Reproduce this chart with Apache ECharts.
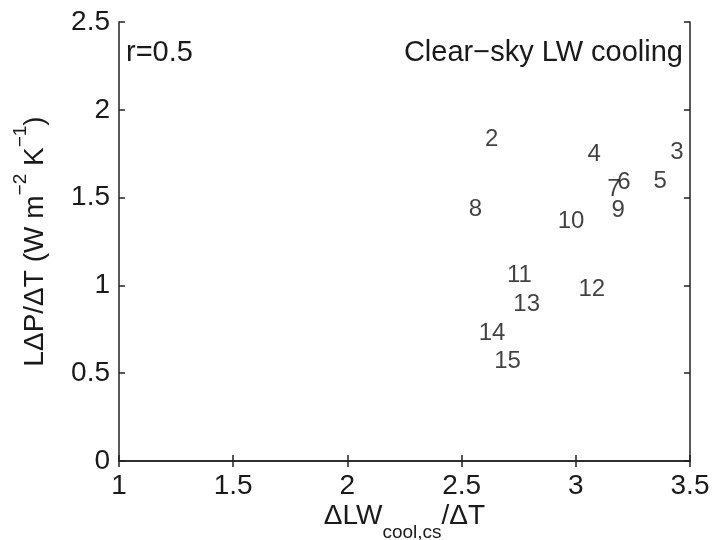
<!DOCTYPE html>
<html>
<head>
<meta charset="utf-8">
<script src="https://cdn.jsdelivr.net/npm/echarts@6/dist/echarts.min.js"></script>
<style>html,body{margin:0;padding:0;background:#fff}#c{width:715px;height:540px}</style>
</head>
<body>
<div id="c"></div>
<script>
var modelIds = ['2','3','4','5','6','7','8','9','10','11','12','13','14','15'];
var xValues = [2.632, 3.443, 3.080, 3.369, 3.211, 3.167, 2.561, 3.185, 2.979, 2.753, 3.070, 2.785, 2.633, 2.701];
var yValues = [1.830, 1.760, 1.748, 1.595, 1.586, 1.549, 1.435, 1.425, 1.363, 1.059, 0.979, 0.894, 0.729, 0.569];
var xTicks = [1, 1.5, 2, 2.5, 3, 3.5];
var yTicks = [0, 0.5, 1, 1.5, 2, 2.5];

var FONT = '"Liberation Sans", Arial, Helvetica, sans-serif';
var INK = '#1a1a1a';
var points = modelIds.map(function (id, i) { return [xValues[i], yValues[i], id]; });

var chart = echarts.init(document.getElementById('c'), null, {renderer: 'canvas'});
var axisCommon = {
  axisLine: {show: true, lineStyle: {color: '#222', width: 1.5}},
  axisTick: {show: true, inside: true, length: 6, lineStyle: {color: '#222', width: 1.5}},
  splitLine: {show: false}
};
chart.setOption({
  animation: false,
  backgroundColor: '#fff',
  grid: {left: 119, right: 25, top: 22, bottom: 79, containLabel: false, outerBoundsMode: 'none'},
  xAxis: [
    Object.assign({
      type: 'value', min: xTicks[0], max: xTicks[xTicks.length - 1], interval: 0.5, position: 'bottom',
      axisLabel: {fontFamily: FONT, fontSize: 28, color: INK, margin: 11,
        formatter: function (v) { return String(v); }},
      name: '{n|ΔLW}{s|cool,cs}{n|/ΔT}',
      nameLocation: 'middle', nameGap: 41, nameMoveOverlap: false,
      nameTextStyle: {rich: {
        n: {fontFamily: FONT, fontSize: 28, color: INK, verticalAlign: 'top', lineHeight: 40},
        s: {fontFamily: FONT, fontSize: 19, color: INK, verticalAlign: 'bottom', lineHeight: 40}
      }}
    }, axisCommon),
    Object.assign({
      type: 'value', min: xTicks[0], max: xTicks[xTicks.length - 1], interval: 0.5, position: 'top',
      axisLabel: {show: false}
    }, axisCommon)
  ],
  yAxis: [
    Object.assign({
      type: 'value', min: yTicks[0], max: yTicks[yTicks.length - 1], interval: 0.5, position: 'left',
      axisLabel: {fontFamily: FONT, fontSize: 28, color: INK, margin: 9,
        formatter: function (v) { return String(v); }},
      name: '{n|LΔP/ΔT (W m}{p|−2}{n| K}{p|−1}{n|)}',
      nameLocation: 'middle', nameGap: 70, nameRotate: 90, nameMoveOverlap: false,
      nameTextStyle: {rich: {
        n: {fontFamily: FONT, fontSize: 28, color: INK, verticalAlign: 'bottom', lineHeight: 38},
        p: {fontFamily: FONT, fontSize: 19, color: INK, verticalAlign: 'top', lineHeight: 38}
      }}
    }, axisCommon),
    Object.assign({
      type: 'value', min: yTicks[0], max: yTicks[yTicks.length - 1], interval: 0.5, position: 'right',
      axisLabel: {show: false}
    }, axisCommon)
  ],
  graphic: [
    {type: 'text', left: 126, top: 38, style: {text: 'r=0.5', font: '29px ' + FONT, fill: INK}},
    {type: 'text', right: 32, top: 38, style: {text: 'Clear\u2212sky LW cooling', font: '29px ' + FONT, fill: INK}}
  ],
  series: [{
    type: 'scatter',
    data: points,
    symbolSize: 16,
    itemStyle: {color: 'rgba(0,0,0,0)'},
    label: {show: true, position: 'inside', fontFamily: FONT, fontSize: 24, color: '#111',
      formatter: function (p) { return p.data[2]; }}
  }]
});
</script>
</body>
</html>
